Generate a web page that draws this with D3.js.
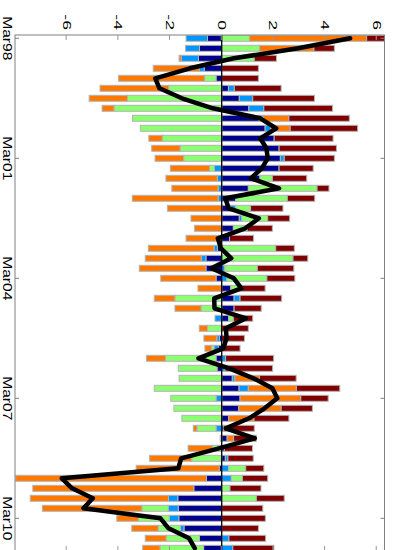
<!DOCTYPE html>
<html>
<head>
<meta charset="utf-8">
<script src="https://cdn.jsdelivr.net/npm/d3@7"></script>
<style>
  html, body { margin: 0; padding: 0; background: #fff; }
  svg { display: block; }
  text { font-family: "Liberation Sans", Arial, Helvetica, sans-serif; fill: #000; }
</style>
</head>
<body>
<script>
// Quarterly periods
const quarters = [
  "Mar98","Jun98","Sep98","Dec98","Mar99","Jun99","Sep99","Dec99",
  "Mar00","Jun00","Sep00","Dec00","Mar01","Jun01","Sep01","Dec01",
  "Mar02","Jun02","Sep02","Dec02","Mar03","Jun03","Sep03","Dec03",
  "Mar04","Jun04","Sep04","Dec04","Mar05","Jun05","Sep05","Dec05",
  "Mar06","Jun06","Sep06","Dec06","Mar07","Jun07","Sep07","Dec07",
  "Mar08","Jun08","Sep08","Dec08","Mar09","Jun09","Sep09","Dec09",
  "Mar10","Jun10","Sep10","Dec10"
];

// Contributions of each component per quarter
const comp1 = [-0.55,-0.86,-0.90,-0.68,-0.22,0.26,0.68,1.05,1.45,1.68,2.03,2.22,2.27,2.22,1.48,1.03,
  0.54,0.35,0.68,0.45,0.30,-0.17,-0.61,-0.61,-0.22,0.35,0.48,0.48,0.27,0.00,-0.09,-0.13,
  -0.22,-0.18,0.41,0.67,0.71,0.66,0.27,0.08,0.21,0.10,0.14,-0.10,-0.59,-1.08,-1.70,-1.68,
  -1.66,-1.46,-0.86,-0.70];
const comp2 = [-0.83,-0.54,-0.67,-0.19,0.00,0.23,0.52,0.58,0.15,0.22,0.00,0.00,0.15,-0.28,-0.17,-0.14,
  -0.14,0.18,0.10,0.00,0.00,-0.13,-0.18,0.12,0.20,0.00,0.23,0.00,-0.26,0.00,-0.10,-0.17,
  0.15,0.13,0.10,0.36,-0.22,0.00,0.00,-0.22,0.00,0.00,0.10,0.27,0.37,0.00,-0.36,-0.39,
  -0.37,-0.14,0.28,0.43];
const comp3 = [1.07,1.46,1.26,0.00,-0.44,-2.05,-3.65,-4.17,-3.45,-3.15,-2.30,-1.61,-1.47,-0.19,0.48,2.66,
  2.00,0.59,1.00,0.54,0.00,2.09,2.76,1.26,1.55,0.39,-1.81,-0.80,0.18,-0.55,0.00,-0.09,
  -1.95,-1.50,-1.65,-2.61,-1.75,-1.85,-1.54,-0.74,-0.06,-0.36,-1.16,0.66,0.43,0.32,1.34,-1.02,
  -1.20,-0.86,-1.29,-1.69];
const comp4 = [4.54,2.11,-0.08,-1.78,-3.33,-2.66,-1.48,-0.46,1.00,0.75,-0.52,-1.10,-1.11,-1.52,-1.99,-1.79,
  -3.32,-2.10,-1.19,-1.05,-1.38,-2.54,-2.17,-2.58,-2.14,-0.92,-0.80,-1.01,0.00,-0.32,-0.50,-0.26,
  -0.74,0.00,0.95,1.86,2.35,1.64,0.98,-0.14,0.25,-0.94,-1.63,-3.21,-7.38,-6.23,-5.35,-3.85,
  -0.83,-1.02,-0.81,-0.67];
const comp5 = [0.74,0.79,0.86,1.42,1.42,1.81,2.39,2.66,2.34,2.61,2.28,2.22,1.94,1.32,1.33,0.46,
  1.06,1.25,0.85,0.97,0.93,0.72,0.57,1.41,1.08,0.94,1.61,1.05,0.75,1.03,0.88,0.71,
  1.86,1.84,1.42,1.68,1.06,1.21,1.35,1.18,0.88,1.09,0.98,0.70,0.98,1.20,1.08,1.59,
  1.69,1.42,1.42,1.59];

const componentKeys = ["c1","c2","c3","c4","c5"];
const componentColors = ["#00008f","#0096ff","#8cff70","#ff7800","#800000"];

// Axis ticks
const timeTicks = ["Mar98","Mar01","Mar04","Mar07","Mar10"];
const valueTicks = [-6,-4,-2,0,2,4,6];

const table = quarters.map((q, i) => ({
  q, c1: comp1[i], c2: comp2[i], c3: comp3[i], c4: comp4[i], c5: comp5[i]
}));
const netTotal = table.map(d => componentKeys.reduce((s, k) => s + d[k], 0));

const W = 395, H = 550;
const svg = d3.select("body").append("svg").attr("width", W).attr("height", H);

// The chart is laid out as a column chart and turned a quarter turn clockwise:
// time runs down the page, values run left to right.
const g = svg.append("g").attr("transform", `translate(${W},0) rotate(90)`);

const plot = { x0: 35, x1: 551, y0: 10.5, y1: 380 };

const x = d3.scaleBand().domain(quarters).range([33.3, 553.3])
  .paddingInner(0.4).paddingOuter(0.2);
const y = d3.scaleLinear().domain([-8, 6.3]).range([plot.y1, plot.y0]);

g.append("defs").append("clipPath").attr("id", "plotClip")
  .append("rect")
  .attr("x", plot.x0).attr("y", plot.y0)
  .attr("width", plot.x1 - plot.x0).attr("height", plot.y1 - plot.y0);

const stacked = d3.stack().keys(componentKeys).offset(d3.stackOffsetDiverging)(table);

const inner = g.append("g").attr("clip-path", "url(#plotClip)");

inner.selectAll("g.layer").data(stacked).join("g")
  .attr("class", "layer")
  .attr("fill", (d, i) => componentColors[i])
  .selectAll("rect").data(d => d.filter(s => s[1] !== s[0])).join("rect")
  .attr("x", d => x(d.data.q))
  .attr("width", x.bandwidth())
  .attr("y", d => y(d[1]))
  .attr("height", d => y(d[0]) - y(d[1]))
  .attr("stroke", "#b4b4b4")
  .attr("stroke-width", 1);

// zero reference line
inner.append("line")
  .attr("x1", plot.x0).attr("x2", plot.x1)
  .attr("y1", y(0)).attr("y2", y(0))
  .attr("stroke", "#000").attr("stroke-width", 1.3);

// net total line
inner.append("path")
  .datum(netTotal)
  .attr("fill", "none")
  .attr("stroke", "#000")
  .attr("stroke-width", 4.5)
  .attr("stroke-linejoin", "round")
  .attr("stroke-linecap", "round")
  .attr("d", d3.line().x((d, i) => x(quarters[i]) + x.bandwidth() / 2).y(d => y(d)));

// frame
g.append("rect")
  .attr("x", plot.x0).attr("y", plot.y0)
  .attr("width", plot.x1 - plot.x0).attr("height", plot.y1 - plot.y0)
  .attr("fill", "none").attr("stroke", "#808080").attr("stroke-width", 1);

const valueStretch = 1.6, timeStretch = 1.2;

// value axis (labels along the top of the page)
const yAxis = g.append("g").attr("transform", `translate(${plot.x0},0)`)
  .call(d3.axisLeft(y).tickValues(valueTicks).tickFormat(d => String(d))
    .tickSizeInner(-5).tickSizeOuter(0).tickPadding(5));
yAxis.select(".domain").remove();
yAxis.selectAll("line").attr("stroke", "#999");
yAxis.selectAll("text")
  .attr("font-size", 11)
  .attr("x", -5 / valueStretch)
  .attr("transform", `scale(${valueStretch},1)`);

const yAxis2 = g.append("g").attr("transform", `translate(${plot.x1},0)`)
  .call(d3.axisRight(y).tickValues(valueTicks).tickFormat("")
    .tickSizeInner(-5).tickSizeOuter(0));
yAxis2.select(".domain").remove();
yAxis2.selectAll("line").attr("stroke", "#999");

// time axis (labels down the left side of the page)
const xAxis = g.append("g").attr("transform", `translate(0,${plot.y1})`)
  .call(d3.axisBottom(x).tickValues(timeTicks)
    .tickSizeInner(-4).tickSizeOuter(0).tickPadding(3));
xAxis.select(".domain").remove();
xAxis.selectAll("line").attr("stroke", "#808080");
xAxis.selectAll("text")
  .attr("font-size", 13)
  .attr("transform", `scale(${timeStretch},1)`);

const xAxis2 = g.append("g").attr("transform", `translate(0,${plot.y0})`)
  .call(d3.axisTop(x).tickValues(timeTicks).tickFormat("")
    .tickSizeInner(-4).tickSizeOuter(0));
xAxis2.select(".domain").remove();
xAxis2.selectAll("line").attr("stroke", "#808080");
</script>
</body>
</html>
